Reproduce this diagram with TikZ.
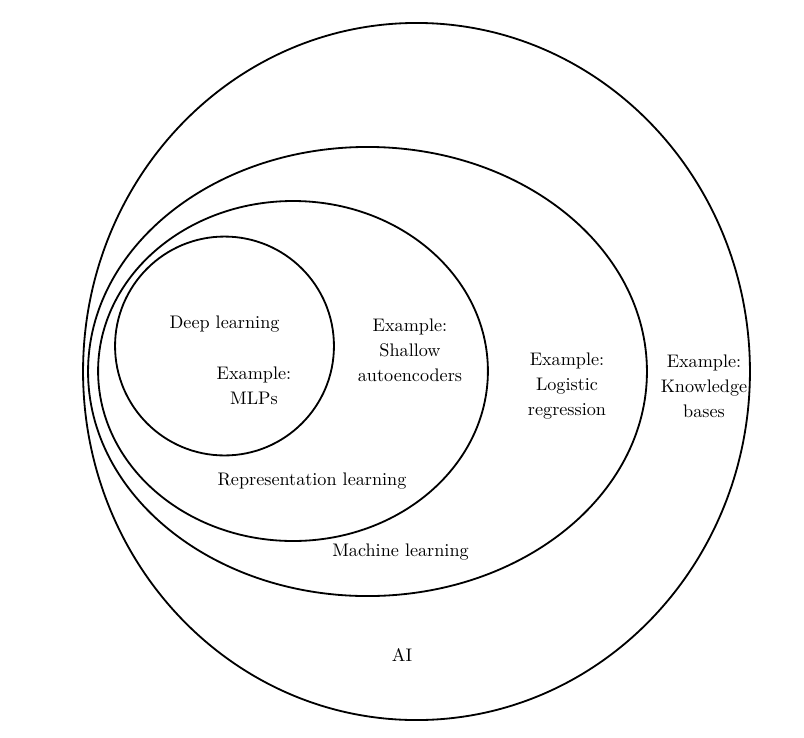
\documentclass[tikz,border=0pt]{standalone}
\usepackage{amsmath}
\usepackage{xcolor}
\usepackage{tikz}

\begin{document}
\begin{tikzpicture}[x=0.55pt,y=-0.55pt,
    set/.style={draw=black,line width=1pt},
    lbl/.style={align=center,inner sep=0pt,font=\fontsize{10}{13.75}\selectfont}]
                \useasboundingbox (0,0) rectangle (804,737);
                % nested sets
                \coordinate (ai) at (416.5,371.5);
                \coordinate (ml) at (367.5,371.5);
                \coordinate (rl) at (293,371);
                \coordinate (dl) at (224.5,346);
                \draw[set] (ai) ellipse [x radius=183.4pt, y radius=191.7pt];
                \draw[set] (ml) ellipse [x radius=153.7pt, y radius=123.5pt];
                \draw[set] (rl) ellipse [x radius=107.2pt, y radius=93.5pt];
                \draw[set] (dl) circle [radius=60.2pt];
                % labels
                \node[lbl] (dltext) at (224.5,324) {Deep learning};
                \node[lbl] (mlp) at (254,386) {Example:\\MLPs};
                \node[lbl] (rltext) at (312,481) {Representation learning};
                \node[lbl] (shallow) at (410,350) {Example:\\Shallow\\autoencoders};
                \node[lbl] (mltext) at (400.5,552) {Machine learning};
                \node[lbl] (logreg) at (567,386) {Example:\\Logistic\\regression};
                \node[lbl] (kb) at (704,386) {Example:\\Knowledge\\bases};
                \node[lbl] (aitext) at (402,655) {AI};
            \end{tikzpicture}
\end{document}
